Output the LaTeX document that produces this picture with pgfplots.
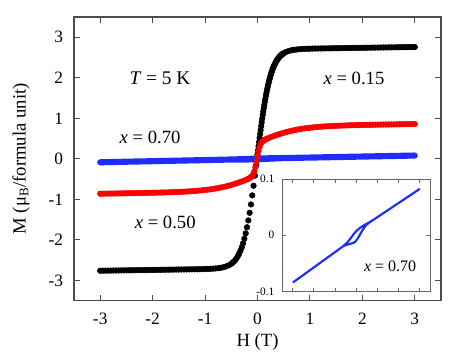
\documentclass[border=0pt]{standalone}
\usepackage{fontspec}
\setmainfont{Liberation Serif}
\usepackage{pgfplots}
\usepackage{pgfplotstable}
\pgfplotsset{compat=1.18}
\definecolor{mblue}{RGB}{30,45,250}
\definecolor{mred}{RGB}{250,0,0}

% x = 0.70, full loop (shared by main plot and inset)
\pgfplotstableread[row sep=\\]{
H M\\
-3 -0.084\\ -2.5 -0.0705\\ -2 -0.057\\ -1.5 -0.0435\\ -1 -0.030\\ -0.8 -0.0245\\
-0.6 -0.019\\ -0.4 -0.0165\\ -0.2 -0.0145\\ -0.05 -0.012\\ 0.05 -0.007\\ 0.15 -0.001\\
0.3 0.009\\ 0.45 0.017\\ 0.6 0.022\\ 0.8 0.027\\ 1 0.032\\ 1.5 0.0445\\ 2 0.057\\
2.5 0.0695\\ 3 0.082\\ 2.5 0.0695\\ 2 0.057\\ 1.5 0.0445\\ 1 0.032\\ 0.8 0.027\\
0.6 0.0225\\ 0.4 0.0185\\ 0.2 0.0135\\ 0.05 0.009\\ -0.1 0.003\\ -0.25 -0.005\\
-0.4 -0.012\\ -0.6 -0.019\\ -0.8 -0.0245\\ -1 -0.030\\ -1.5 -0.0435\\ -2 -0.057\\
-2.5 -0.0705\\ -3 -0.084\\
}\bluedata

\begin{document}
\begin{tikzpicture}
\useasboundingbox (-55.5pt,-46.7pt) rectangle (282pt,225.55pt);
\begin{axis}[
    name=main, at={(0,0)}, anchor=south west,
    width=275.25pt, height=212.8pt, scale only axis,
    xmin=-3.5, xmax=3.5, ymin=-3.5, ymax=3.5,
    xtick={-3,-2,-1,0,1,2,3}, ytick={-3,-2,-1,0,1,2,3},
    xticklabels={\textrm{-3},\textrm{-2},\textrm{-1},\textrm{0},\textrm{1},\textrm{2},\textrm{3}},
    yticklabels={\textrm{-3},\textrm{-2},\textrm{-1},\textrm{0},\textrm{1},\textrm{2},\textrm{3}},
    tick align=inside, major tick length=4.5pt,
    axis line style={black!70, line width=0.8pt},
    tick style={black!70, line width=0.8pt},
    ticklabel style={font=\fontsize{13}{15}\selectfont},
    xticklabel style={yshift=-5.5pt},
    yticklabel style={xshift=-4.7pt},
    xlabel={H (T)},
    ylabel={M (μ\textsubscript{B}/formula unit)},
    label style={font=\fontsize{14}{16}\selectfont},
    xlabel style={at={(axis description cs:0.5,-0.1445)}, anchor=center},
    ylabel style={at={(axis description cs:-0.1444,0.5)}, anchor=center},
]
% x = 0.15
\addplot[only marks, mark=*, mark size=2.1pt, black] table[row sep=\\] {
H M\\
-3.00 -2.760\\ -2.95 -2.759\\ -2.90 -2.758\\ -2.85 -2.757\\ -2.80 -2.756\\ -2.75 -2.755\\
-2.70 -2.754\\ -2.65 -2.753\\ -2.60 -2.752\\ -2.55 -2.751\\ -2.50 -2.750\\ -2.45 -2.749\\
-2.40 -2.748\\ -2.35 -2.747\\ -2.30 -2.746\\ -2.25 -2.745\\ -2.20 -2.744\\ -2.15 -2.743\\
-2.10 -2.742\\ -2.05 -2.741\\ -2.00 -2.740\\ -1.95 -2.739\\ -1.90 -2.738\\ -1.85 -2.737\\
-1.80 -2.736\\ -1.75 -2.735\\ -1.70 -2.734\\ -1.65 -2.733\\ -1.60 -2.732\\ -1.55 -2.731\\
-1.50 -2.730\\ -1.45 -2.729\\ -1.40 -2.728\\ -1.35 -2.727\\ -1.30 -2.726\\ -1.25 -2.725\\
-1.20 -2.724\\ -1.15 -2.723\\ -1.10 -2.722\\ -1.05 -2.721\\ -1.00 -2.717\\ -0.95 -2.715\\
-0.90 -2.712\\ -0.85 -2.709\\ -0.80 -2.704\\ -0.75 -2.697\\ -0.70 -2.687\\ -0.65 -2.674\\
-0.60 -2.654\\ -0.55 -2.628\\ -0.500 -2.589\\ -0.475 -2.563\\ -0.450 -2.532\\ -0.425 -2.496\\
-0.400 -2.452\\ -0.375 -2.399\\ -0.350 -2.338\\ -0.325 -2.266\\ -0.300 -2.182\\ -0.275 -2.083\\
-0.250 -1.969\\ -0.225 -1.837\\ -0.200 -1.687\\ -0.175 -1.519\\ -0.150 -1.331\\ -0.125 -1.124\\
-0.100 -0.901\\ -0.075 -0.663\\ -0.050 -0.413\\ -0.025 -0.156\\
0.00 0.104\\ 0.01 0.207\\ 0.02 0.310\\ 0.03 0.412\\ 0.04 0.513\\ 0.05 0.613\\ 0.06 0.711\\
0.07 0.807\\ 0.08 0.901\\ 0.09 0.992\\ 0.10 1.081\\ 0.11 1.167\\ 0.12 1.250\\ 0.13 1.330\\
0.14 1.408\\ 0.15 1.482\\ 0.16 1.553\\ 0.17 1.622\\ 0.18 1.687\\ 0.19 1.749\\ 0.20 1.809\\
0.21 1.864\\ 0.22 1.918\\ 0.23 1.969\\ 0.24 2.017\\ 0.25 2.061\\ 0.26 2.104\\ 0.27 2.144\\
0.28 2.182\\ 0.29 2.217\\ 0.30 2.250\\ 0.31 2.281\\ 0.32 2.310\\ 0.33 2.338\\ 0.34 2.363\\
0.35 2.387\\ 0.36 2.409\\ 0.37 2.431\\ 0.38 2.451\\ 0.39 2.469\\ 0.40 2.487\\ 0.41 2.503\\
0.42 2.518\\ 0.43 2.532\\ 0.44 2.545\\ 0.45 2.557\\ 0.46 2.569\\ 0.47 2.579\\ 0.48 2.589\\
0.49 2.598\\ 0.50 2.606\\ 0.55 2.640\\ 0.60 2.663\\ 0.65 2.680\\ 0.70 2.691\\ 0.75 2.699\\
0.80 2.705\\ 0.85 2.710\\ 0.90 2.713\\ 0.95 2.716\\ 1.00 2.718\\ 1.05 2.721\\ 1.10 2.722\\
1.15 2.723\\ 1.20 2.724\\ 1.25 2.725\\ 1.30 2.726\\ 1.35 2.727\\ 1.40 2.728\\ 1.45 2.729\\
1.50 2.730\\ 1.55 2.731\\ 1.60 2.732\\ 1.65 2.733\\ 1.70 2.734\\ 1.75 2.735\\ 1.80 2.736\\
1.85 2.737\\ 1.90 2.738\\ 1.95 2.739\\ 2.00 2.740\\ 2.05 2.741\\ 2.10 2.742\\ 2.15 2.743\\
2.20 2.744\\ 2.25 2.745\\ 2.30 2.746\\ 2.35 2.747\\ 2.40 2.748\\ 2.45 2.749\\ 2.50 2.750\\
2.55 2.751\\ 2.60 2.752\\ 2.65 2.753\\ 2.70 2.754\\ 2.75 2.755\\ 2.80 2.756\\ 2.85 2.757\\
2.90 2.758\\ 2.95 2.759\\ 3.00 2.760\\
};
% x = 0.50
\addplot[only marks, mark=*, mark size=2.1pt, mred] table[row sep=\\] {
H M\\
-3.00 -0.860\\ -2.95 -0.859\\ -2.90 -0.858\\ -2.85 -0.857\\ -2.80 -0.856\\ -2.75 -0.855\\
-2.70 -0.853\\ -2.65 -0.852\\ -2.60 -0.851\\ -2.55 -0.850\\ -2.50 -0.849\\ -2.45 -0.848\\
-2.40 -0.847\\ -2.35 -0.846\\ -2.30 -0.844\\ -2.25 -0.843\\ -2.20 -0.842\\ -2.15 -0.840\\
-2.10 -0.839\\ -2.05 -0.838\\ -2.00 -0.836\\ -1.95 -0.835\\ -1.90 -0.833\\ -1.85 -0.831\\
-1.80 -0.830\\ -1.75 -0.828\\ -1.70 -0.826\\ -1.65 -0.823\\ -1.60 -0.821\\ -1.55 -0.818\\
-1.50 -0.816\\ -1.45 -0.813\\ -1.40 -0.809\\ -1.35 -0.806\\ -1.30 -0.802\\ -1.25 -0.797\\
-1.20 -0.793\\ -1.15 -0.787\\ -1.10 -0.782\\ -1.05 -0.775\\ -1.00 -0.768\\ -0.95 -0.760\\
-0.90 -0.752\\ -0.85 -0.742\\ -0.80 -0.731\\ -0.75 -0.720\\ -0.70 -0.707\\ -0.65 -0.693\\
-0.60 -0.678\\ -0.55 -0.661\\ -0.50 -0.643\\ -0.45 -0.624\\ -0.40 -0.603\\ -0.35 -0.581\\
-0.30 -0.558\\ -0.25 -0.534\\ -0.20 -0.507\\ -0.18 -0.495\\ -0.16 -0.482\\ -0.14 -0.467\\
-0.12 -0.446\\ -0.10 -0.417\\ -0.08 -0.374\\ -0.06 -0.306\\ -0.04 -0.207\\ -0.02 -0.077\\
0.00 0.066\\ 0.02 0.196\\ 0.04 0.295\\ 0.06 0.363\\ 0.08 0.406\\ 0.10 0.435\\ 0.12 0.456\\
0.14 0.472\\ 0.16 0.484\\ 0.18 0.497\\ 0.20 0.507\\ 0.25 0.534\\ 0.30 0.558\\ 0.35 0.581\\
0.40 0.603\\ 0.45 0.624\\ 0.50 0.643\\ 0.55 0.661\\ 0.60 0.678\\ 0.65 0.693\\ 0.70 0.707\\
0.75 0.720\\ 0.80 0.731\\ 0.85 0.742\\ 0.90 0.752\\ 0.95 0.760\\ 1.00 0.768\\ 1.05 0.775\\
1.10 0.782\\ 1.15 0.787\\ 1.20 0.793\\ 1.25 0.797\\ 1.30 0.802\\ 1.35 0.806\\ 1.40 0.809\\
1.45 0.813\\ 1.50 0.816\\ 1.55 0.818\\ 1.60 0.821\\ 1.65 0.823\\ 1.70 0.826\\ 1.75 0.828\\
1.80 0.830\\ 1.85 0.831\\ 1.90 0.833\\ 1.95 0.835\\ 2.00 0.836\\ 2.05 0.838\\ 2.10 0.839\\
2.15 0.840\\ 2.20 0.842\\ 2.25 0.843\\ 2.30 0.844\\ 2.35 0.846\\ 2.40 0.847\\ 2.45 0.848\\
2.50 0.849\\ 2.55 0.850\\ 2.60 0.851\\ 2.65 0.852\\ 2.70 0.853\\ 2.75 0.855\\ 2.80 0.856\\
2.85 0.857\\ 2.90 0.858\\ 2.95 0.859\\ 3.00 0.860\\
};
% x = 0.70
\addplot[mblue, line width=4.6pt, line cap=round, line join=round] table {\bluedata};

\node[font=\fontsize{14.5}{17}\selectfont] at (axis cs:-1.86,1.99) {\textit{T} = 5 K};
\node[font=\fontsize{14}{16}\selectfont] at (axis cs:-2.05,0.54) {\textit{x} = 0.70};
\node[font=\fontsize{14}{16}\selectfont] at (axis cs:1.84,1.99) {\textit{x} = 0.15};
\node[font=\fontsize{14}{16}\selectfont] at (axis cs:-1.76,-1.57) {\textit{x} = 0.50};
\end{axis}

\begin{axis}[
    at={(156.2pt,6.9pt)}, anchor=south west,
    width=110.8pt, height=84.4pt, scale only axis,
    axis background/.style={fill=white},
    xmin=-3.5, xmax=3.5, ymin=-0.1, ymax=0.1,
    xtick={-3,-2,-1,0,1,2,3}, xticklabels={},
    ytick={-0.1,0,0.1}, yticklabels={\textrm{-0.1},\textrm{0},\textrm{0.1}},
    tick align=inside, major tick length=3pt,
    axis line style={black!60, line width=0.7pt},
    tick style={black!60, line width=0.7pt},
    yticklabel style={font=\fontsize{8.5}{10}\selectfont, xshift=-2.4pt},
]
\addplot[mblue, line width=1.6pt, line join=round] table {\bluedata};
\node[font=\fontsize{12}{14}\selectfont] at (axis cs:1.61,-0.056) {\textit{x} = 0.70};
\end{axis}
\end{tikzpicture}
\end{document}
